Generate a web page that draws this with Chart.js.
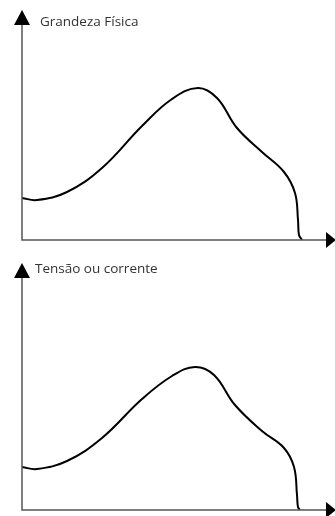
<!DOCTYPE html>
<html>
<head>
<meta charset="utf-8">
<script src="https://cdn.jsdelivr.net/npm/chart.js@4"></script>
<style>
  html, body { margin: 0; padding: 0; background: #fff; }
  #wrap { position: relative; width: 335px; height: 516px; }
  .box { position: absolute; left: 0; width: 335px; }
</style>
</head>
<body>
<div id="wrap">
  <div class="box" style="top:0;height:255px"><canvas id="topChart"></canvas></div>
  <div class="box" style="top:255px;height:261px"><canvas id="bottomChart"></canvas></div>
</div>
<script>
// curve values (x along the axis, y above it)
const topX = [0, 15, 45, 80, 120, 150, 176, 195, 215, 240, 262, 273, 276, 277, 280];
const topY = [42, 40, 48, 72, 114, 141, 152, 142, 112, 88, 68, 47, 20, 5, 0];

const bottomX = [0, 15, 45, 80, 120, 150, 173, 192, 213, 240, 262, 272, 275, 276, 278];
const bottomY = [43, 41, 49, 72, 111, 134, 143, 135, 105, 79, 62, 43, 15, 3, 0];

const topLabel = 'Grandeza Física';
const bottomLabel = 'Tensão ou corrente';

const axisColor = '#555555';

// draws the two axes with arrow heads and the label next to the upper arrow
const arrowAxes = {
    id: 'arrowAxes',
    afterDraw(chart, args, opts) {
        const ctx = chart.ctx;
        const x0 = chart.scales.x.getPixelForValue(0);
        const y0 = chart.scales.y.getPixelForValue(0);
        const top = chart.chartArea.top;
        ctx.save();
        ctx.strokeStyle = axisColor;
        ctx.lineWidth = 1.5;
        ctx.beginPath();
        ctx.moveTo(x0, top + 12);
        ctx.lineTo(x0, y0);
        ctx.lineTo(chart.width - 6, y0);
        ctx.stroke();

        ctx.fillStyle = '#000';
        ctx.beginPath();
        ctx.moveTo(x0, top);
        ctx.lineTo(x0 - 8, top + 15);
        ctx.lineTo(x0 + 8, top + 15);
        ctx.closePath();
        ctx.fill();

        ctx.beginPath();
        ctx.moveTo(chart.width + 1, y0);
        ctx.lineTo(chart.width - 9, y0 - 8);
        ctx.lineTo(chart.width - 9, y0 + 8);
        ctx.closePath();
        ctx.fill();

        ctx.fillStyle = '#333';
        ctx.font = '13.5px "Open Sans", sans-serif';
        ctx.textBaseline = 'middle';
        ctx.fillText(opts.label, x0 + opts.dx, top + opts.dy);
        ctx.restore();
    }
};

function makeChart(id, xs, ys, label, pad, ymax, dx, dy) {
    const points = xs.map((x, i) => ({ x: x, y: ys[i] }));
    return new Chart(document.getElementById(id), {
        type: 'line',
        data: {
            datasets: [{
                data: points,
                borderColor: '#000',
                borderWidth: 2,
                pointRadius: 0,
                tension: 0.4,
                fill: false
            }]
        },
        options: {
            responsive: true,
            maintainAspectRatio: false,
            animation: false,
            layout: { padding: pad },
            plugins: {
                legend: { display: false },
                tooltip: { enabled: false },
                arrowAxes: { label: label, dx: dx, dy: dy }
            },
            scales: {
                x: { type: 'linear', display: false, min: 0, max: 308 },
                y: { display: false, min: 0, max: ymax }
            }
        },
        plugins: [arrowAxes]
    });
}

makeChart('topChart', topX, topY, topLabel,
    { left: 22, top: 10, right: 5, bottom: 15 }, 230, 18, 12);
makeChart('bottomChart', bottomX, bottomY, bottomLabel,
    { left: 22, top: 8, right: 5, bottom: 6 }, 247, 13, 6);
</script>
</body>
</html>
